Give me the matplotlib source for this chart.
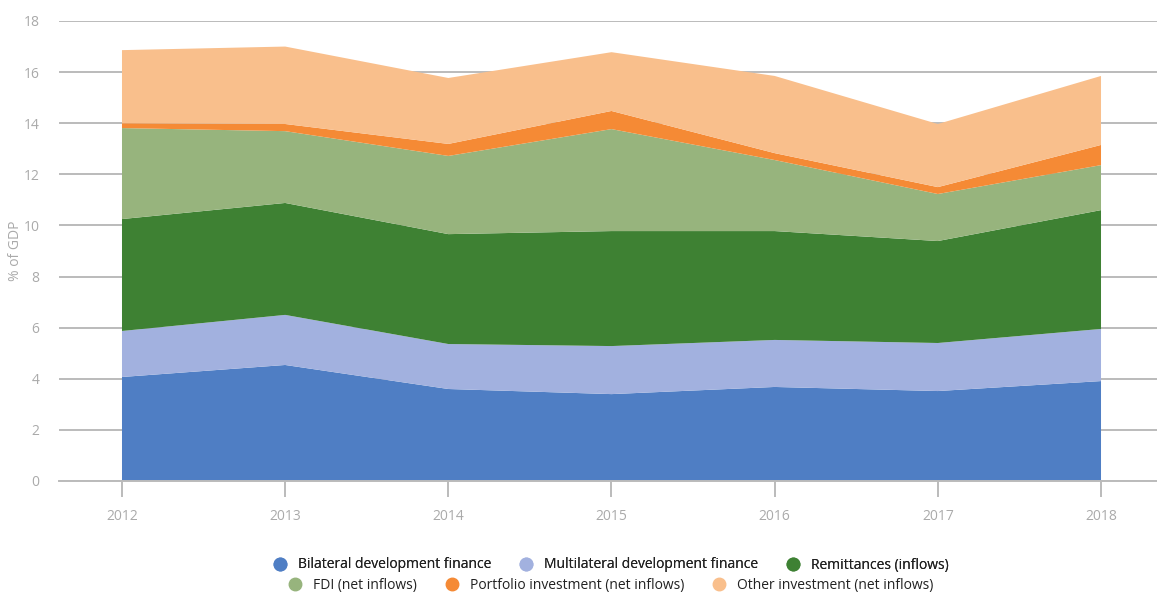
import matplotlib.pyplot as plt
from matplotlib.lines import Line2D

plt.rcParams["font.family"] = ["Open Sans", "DejaVu Sans"]

years = [2012, 2013, 2014, 2015, 2016, 2017, 2018]

bilateral = [4.07, 4.54, 3.60, 3.40, 3.68, 3.52, 3.91]
multilateral = [1.80, 1.96, 1.76, 1.88, 1.84, 1.88, 2.04]
remittances = [4.38, 4.38, 4.30, 4.50, 4.26, 3.99, 4.65]
fdi = [3.56, 2.81, 3.06, 3.99, 2.78, 1.84, 1.76]
portfolio = [0.19, 0.28, 0.47, 0.71, 0.27, 0.27, 0.79]
other = [2.86, 3.03, 2.58, 2.30, 3.02, 2.47, 2.70]

labels = [
    "Bilateral development finance",
    "Multilateral development finance",
    "Remittances (inflows)",
    "FDI (net inflows)",
    "Portfolio investment (net inflows)",
    "Other investment (net inflows)",
]
colors = ["#4F7EC4", "#A2B1DF", "#3E8133", "#97B47D", "#F58A35", "#F9BF8C"]

GRID = "#BBBBBB"
TICK_TEXT = "#AAAAAA"

fig = plt.figure(figsize=(11.57, 5.92), dpi=100)
ax = fig.add_axes([59 / 1157, 1 - 481 / 592, 1 - 59 / 1157, 460 / 592])

ax.stackplot(
    years,
    bilateral, multilateral, remittances, fdi, portfolio, other,
    colors=colors,
    linewidth=0,
    zorder=2,
)

ax.set_xlim(2012 - 63 / 163.2, 2018 + 56 / 163.2)
ax.set_ylim(0, 18)
ax.set_yticks(range(0, 19, 2))
ax.set_xticks(years)

ax.grid(axis="y", color=GRID, linewidth=1.4, zorder=0)
ax.set_axisbelow(True)

for side in ["top", "right", "left"]:
    ax.spines[side].set_visible(False)
ax.spines["bottom"].set_color(GRID)
ax.spines["bottom"].set_linewidth(1.4)

ax.tick_params(axis="x", colors=GRID, length=11.5, width=1.4, pad=9,
               labelcolor=TICK_TEXT, labelsize=10)
ax.tick_params(axis="y", length=0, pad=14, labelcolor=TICK_TEXT, labelsize=10)

ax.set_ylabel("% of GDP", color=TICK_TEXT, fontsize=10)
ax.yaxis.set_label_coords(-0.033, 0.5)

handles = [
    Line2D([], [], marker="o", linestyle="none", markersize=9,
           markerfacecolor=c, markeredgecolor=c)
    for c in colors
]

leg1 = fig.legend(handles[:3], labels[:3], loc="center", ncol=3,
                  bbox_to_anchor=(0.525, 1 - 565 / 592), frameon=False,
                  fontsize=10, handletextpad=0.3, columnspacing=1.5,
                  labelcolor="#222222")
fig.legend(handles[3:], labels[3:], loc="center", ncol=3,
           bbox_to_anchor=(0.525, 1 - 585 / 592), frameon=False,
           fontsize=10, handletextpad=0.3, columnspacing=1.5,
           labelcolor="#222222")
fig.add_artist(leg1)

fig.savefig("out.png", dpi=100)
